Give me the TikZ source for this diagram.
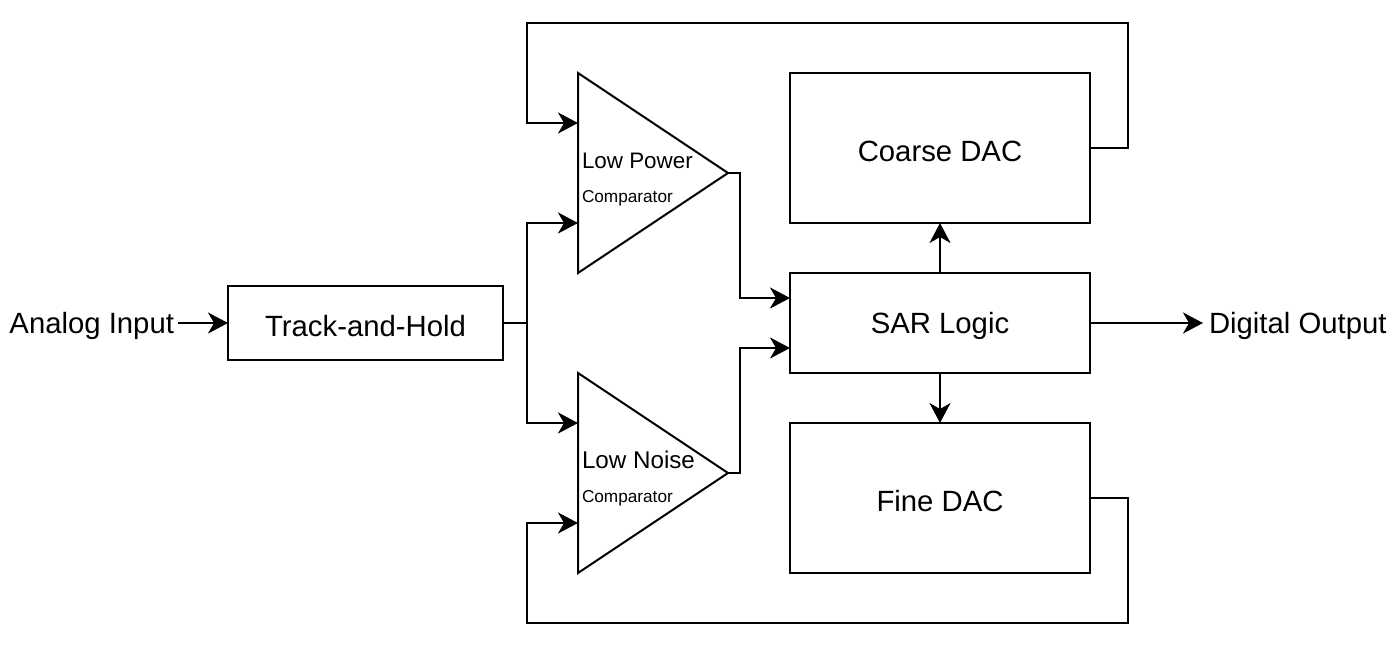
\documentclass[tikz,border=0pt]{standalone}
\usepackage{fontspec}
\setmainfont{Liberation Sans}
\usetikzlibrary{arrows.meta,positioning}
\begin{document}
\begin{tikzpicture}[x=1pt,y=-1pt,
  line width=2pt,
  arr/.style={-{Stealth[length=20pt,width=21pt,inset=6pt]}},
  big/.style={font=\fontsize{29.3}{34}\selectfont},
  mid/.style={font=\fontsize{22.4}{26}\selectfont},
  mid2/.style={font=\fontsize{24.2}{28}\selectfont},
  sml/.style={font=\fontsize{17.2}{20}\selectfont},
  lbl/.style={inner sep=0,anchor=west}]
\useasboundingbox (0,0) rectangle (1400,646);
% boxes
\draw (228,286) rectangle (503,360);
\node[big] (th) at (365.5,326) {Track-and-Hold};
\coordinate (thR) at (503,323);
\coordinate (thL) at (228,323);
\draw (790,73) rectangle (1090,223);
\node[big] (cdac) at (940,151) {Coarse DAC};
\draw (790,273) rectangle (1090,373);
\node[big] (sar) at (940,326) {SAR Logic};
\draw (790,423) rectangle (1090,573);
\node[big] (fdac) at (940,501) {Fine DAC};
% comparators
\draw[line join=miter] (578,73) -- (728,173) -- (578,273) -- cycle;
\draw[line join=miter] (578,373) -- (728,473) -- (578,573) -- cycle;
\node[mid,lbl] (lp) at (581,161) {Low Power};
\node[sml,lbl] (lpc) at (581,198) {Comparator};
\node[mid2,lbl] (ln) at (581,460) {Low Noise};
\node[sml,lbl] (lnc) at (581,498) {Comparator};
% labels
\node[big,inner sep=0,anchor=east] (ain) at (175,326) {Analog Input};
\node[big,inner sep=0,anchor=west] (dout) at (1208,326) {Digital Output};
% connectors
\draw[arr] (178,323) -- (thL);
\draw (thR) -- (527,323);
\draw[arr] (527,323) |- (578,223);
\draw[arr] (527,323) |- (578,423);
\draw[arr] (728,173) -- (740,173) |- (790,298);
\draw[arr] (728,473) -- (740,473) |- (790,348);
\draw[arr] (940,273) -- (940,223);
\draw[arr] (940,373) -- (940,423);
\draw[arr] (1090,323) -- (1203,323);
\draw[arr] (1090,148) -- (1128,148) -- (1128,23) -- (527,23) -- (527,123) -- (578,123);
\draw[arr] (1090,498) -- (1128,498) -- (1128,623) -- (527,623) -- (527,523) -- (578,523);
\end{tikzpicture}
\end{document}
